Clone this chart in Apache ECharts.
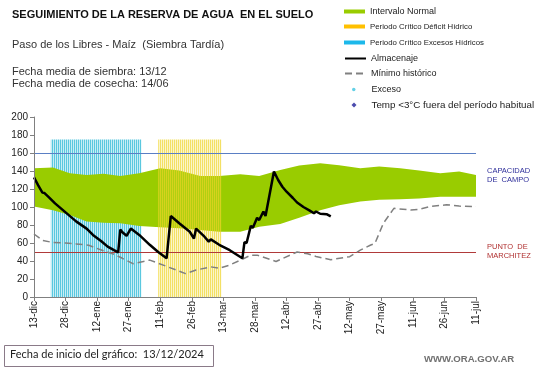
<!DOCTYPE html>
<html>
<head>
<meta charset="utf-8">
<script src="https://cdn.jsdelivr.net/npm/echarts@6/dist/echarts.min.js"></script>
<style>
html,body{margin:0;padding:0;background:#fff;}
#chart{width:541px;height:368px;}
</style>
</head>
<body>
<div id="chart"></div>
<script>
// ---- data (x = days since 13/12/2024) ----
const xTickLabels = ['13-dic','28-dic','12-ene','27-ene','11-feb','26-feb','13-mar','28-mar','12-abr','27-abr','12-may','27-may','11-jun','26-jun','11-jul'];

const bandDays  = [0,9,17,25,33,41,50,60,69,79,88,98,107,117,126,136,145,155,164,174,183,193,202,210];
const bandUpper = [143,144,137.5,135.5,137,134.5,137.5,143,140.5,134.5,134.5,136.5,134.5,141,146,148.5,146.5,143,145,143,140.5,137.5,139.5,135.5];
const bandLower = [100.5,96.5,91,84,82.5,82,79,77.5,76.5,74.5,72.5,72.5,78,81,88,96.5,102,106,108,108.5,109.5,111.5,111.5,111.5];

const almDays   = [0,2,4,5,7,10,15,20,25,28,32,35,38,40,41,42,44,46,50,55,59,63,65,69,74,76,77,81,83,84,88,93,99,100,101,103,104,106,107,109,110,114,116,118,120,123,125,128,131,133,134,136,139,141];
const almValues = [133,124,116,115.5,111,104,94,84,76,69,62,56,52,49.5,75,72,68,76,69,58,50,43,90,82,72.5,65,76,67,61.5,64,58,52,43,61,60,79,77,88,85.5,95,90,139.5,130,122.5,117,110,105,100,96,93,95,92.5,92,89.5];

const minDays   = [0,4,9,15,20,26,31,38,42,47,52,55,59,63,72,77,84,88,93,99,103,106,115,125,130,134,141,150,155,160,162,166,171,179,183,188,196,202,210];
const minValues = [70,63,60.5,60,59,57.5,53,47.5,43,37,39.5,41,37.5,34,26,30,33.5,32,35.5,42,46.5,46.5,39.5,50,48,45,41.5,44.8,52,57.8,59.6,82,98.5,96.7,97.5,100.4,102.5,101,100.4];

const excessPeriod  = [8, 51];   // Periodo crítico excesos hídricos (days)
const deficitPeriod = [59, 89];  // Periodo crítico déficit hídrico (days)
const periodTop = 175;
const capacidadCampo = 160;
const puntoMarchitez = 50;

// ---- helpers ----
const pairs = (xs, ys) => xs.map((x, i) => [x, ys[i]]);
function stripes(c0, c1) {
  const c = document.createElement('canvas');
  c.width = 2; c.height = 2;
  const g = c.getContext('2d');
  g.fillStyle = c0; g.fillRect(0, 0, 1, 2);
  g.fillStyle = c1; g.fillRect(1, 0, 1, 2);
  return { image: c, repeat: 'repeat' };
}

const FONT = 'Liberation Sans, Arial, sans-serif';
const chart = echarts.init(document.getElementById('chart'), null, { renderer: 'canvas' });

const legendBase = {
  orient: 'vertical', left: 344, padding: 0, itemWidth: 21, itemHeight: 4,
  textStyle: { fontSize: 9, lineHeight: 11, color: '#222', fontFamily: FONT },
  selectedMode: false
};
const lt = extra => Object.assign({}, legendBase.textStyle, extra);

const option = {
  animation: false,
  textStyle: { fontFamily: FONT },
  title: [
    { text: 'SEGUIMIENTO DE LA RESERVA DE AGUA  EN EL SUELO', left: 12, top: 8.5, padding: 0,
      textStyle: { fontSize: 11, fontWeight: 'bold', color: '#111', lineHeight: 13, fontFamily: FONT } },
    { text: 'Paso de los Libres - Maíz  (Siembra Tardía)', left: 12, top: 38, padding: 0,
      textStyle: { fontSize: 11, fontWeight: 'normal', color: '#333', lineHeight: 13, fontFamily: FONT } },
    { text: 'Fecha media de siembra: 13/12', left: 12, top: 65, padding: 0,
      textStyle: { fontSize: 11, fontWeight: 'normal', color: '#333', lineHeight: 13, fontFamily: FONT } },
    { text: 'Fecha media de cosecha: 14/06', left: 12, top: 77.5, padding: 0,
      textStyle: { fontSize: 11, fontWeight: 'normal', color: '#333', lineHeight: 13, fontFamily: FONT } },
    { text: 'WWW.ORA.GOV.AR', left: 424, top: 354, padding: 0,
      textStyle: { fontSize: 9.6, fontWeight: 'bold', color: '#707070', lineHeight: 11, fontFamily: FONT } }
  ],
  graphic: [
    { type: 'rect', left: 4, top: 345, shape: { width: 209, height: 21 },
      style: { fill: '#fff', stroke: '#8a7a88', lineWidth: 1 } },
    { type: 'text', left: 10, top: 349, style: { text: 'Fecha de inicio del gráfico:  13/12/2024',
      font: '11px Lato, sans-serif', fill: '#222' } },
    { type: 'text', left: 487, top: 166, style: { text: 'CAPACIDAD\nDE  CAMPO',
      font: '7.5px ' + FONT, fill: '#2e2e9a', lineHeight: 9 } },
    { type: 'text', left: 487, top: 242, style: { text: 'PUNTO  DE\nMARCHITEZ',
      font: '7.5px ' + FONT, fill: '#b03030', lineHeight: 9 } }
  ],
  legend: [
    Object.assign({}, legendBase, { top: 6, data: [{ name: 'Intervalo Normal', icon: 'rect', itemStyle: { color: '#99cc00' } }] }),
    Object.assign({}, legendBase, { top: 21, textStyle: lt({ fontSize: 7.8 }),
      data: [{ name: 'Periodo Crítico Déficit Hídrico', icon: 'rect', itemStyle: { color: '#ffc000' } }] }),
    Object.assign({}, legendBase, { top: 37, textStyle: lt({ fontSize: 7.8 }),
      data: [{ name: 'Periodo Crítico Excesos Hídricos', icon: 'rect', itemStyle: { color: '#1cb8ea' } }] }),
    Object.assign({}, legendBase, { top: 53, data: [{ name: 'Almacenaje', itemStyle: { opacity: 0 } }] }),
    Object.assign({}, legendBase, { top: 68, data: [{ name: 'Mínimo histórico', itemStyle: { opacity: 0 } }] }),
    Object.assign({}, legendBase, { top: 84, left: 352, itemWidth: 3.5, itemHeight: 3.5, textStyle: lt({ padding: [0, 0, 0, 11] }),
      data: [{ name: 'Exceso', icon: 'circle' }] }),
    Object.assign({}, legendBase, { top: 99.5, left: 351.5, itemWidth: 5, itemHeight: 5, textStyle: lt({ fontSize: 9.8, padding: [0, 0, 0, 10] }),
      data: [{ name: 'Temp <3°C fuera del período habitual', icon: 'diamond' }] })
  ],
  grid: { left: 34, right: 65, top: 117, bottom: 71, outerBoundsMode: 'none', containLabel: false },
  xAxis: {
    type: 'value', min: 0, max: 210, interval: 15, z: 10,
    axisLine: { lineStyle: { color: '#808080' } },
    axisTick: { length: 4, lineStyle: { color: '#808080' } },
    axisLabel: { rotate: 90, fontSize: 10, color: '#222', margin: 4, fontFamily: FONT,
      formatter: v => xTickLabels[Math.round(v / 15)] || '' },
    splitLine: { show: false }
  },
  yAxis: {
    type: 'value', min: 0, max: 200, interval: 20, z: 10,
    name: 'Milímetros', nameLocation: 'middle', nameGap: 28,
    nameTextStyle: { fontSize: 6.5, color: '#222', fontFamily: FONT },
    axisLine: { show: true, lineStyle: { color: '#808080' } },
    axisTick: { show: true, length: 4, lineStyle: { color: '#808080' } },
    axisLabel: { fontSize: 10, color: '#222', margin: 6, fontFamily: FONT },
    splitLine: { show: false }
  },
  series: [
    { name: 'Periodo Crítico Excesos Hídricos', type: 'line', data: [], z: 1, symbol: 'none',
      itemStyle: { color: '#1cb8ea' },
      markArea: { silent: true, z: 1, itemStyle: { color: stripes('#5ac8df', '#c8edf5') },
        data: [[{ xAxis: excessPeriod[0], yAxis: 0 }, { xAxis: excessPeriod[1], yAxis: periodTop }]] } },
    { name: 'Intervalo Normal', type: 'custom', z: 2, silent: true, data: [[0, 0]],
      itemStyle: { color: '#99cc00' },
      renderItem: (params, api) => {
        const up = bandDays.map((d, i) => api.coord([d, bandUpper[i]]));
        const lo = bandDays.map((d, i) => api.coord([d, bandLower[i]])).reverse();
        return { type: 'polygon', shape: { points: up.concat(lo) }, style: { fill: '#99cc00' } };
      } },
    { name: 'Periodo Crítico Déficit Hídrico', type: 'line', data: [], z: 3, symbol: 'none',
      itemStyle: { color: '#ffc000' },
      markArea: { silent: true, z: 3,
        itemStyle: { color: stripes('rgba(238,212,40,0.72)', 'rgba(240,220,60,0.28)') },
        data: [[{ xAxis: deficitPeriod[0], yAxis: 0 }, { xAxis: deficitPeriod[1], yAxis: periodTop }]] } },
    { name: 'Mínimo histórico', type: 'line', symbol: 'none', z: 4, data: pairs(minDays, minValues),
      itemStyle: { color: '#808080' },
      lineStyle: { color: '#808080', width: 1.5, type: [7, 4] } },
    { name: 'Almacenaje', type: 'line', symbol: 'none', z: 5, data: pairs(almDays, almValues),
      itemStyle: { color: '#000' },
      lineStyle: { color: '#000', width: 2.5 },
      markLine: { silent: true, symbol: 'none', z: 4, label: { show: false },
        data: [
          { yAxis: capacidadCampo, lineStyle: { color: '#5a7fc4', width: 1, type: 'solid' } },
          { yAxis: puntoMarchitez, lineStyle: { color: '#b03a3a', width: 1, type: 'solid' } }
        ] } },
    { name: 'Exceso', type: 'scatter', data: [], symbol: 'circle', symbolSize: 4, itemStyle: { color: '#3cc4e0' } },
    { name: 'Temp <3°C fuera del período habitual', type: 'scatter', data: [], symbol: 'diamond', symbolSize: 5,
      itemStyle: { color: '#1f1f99' } }
  ]
};
chart.setOption(option);
</script>
</body>
</html>
